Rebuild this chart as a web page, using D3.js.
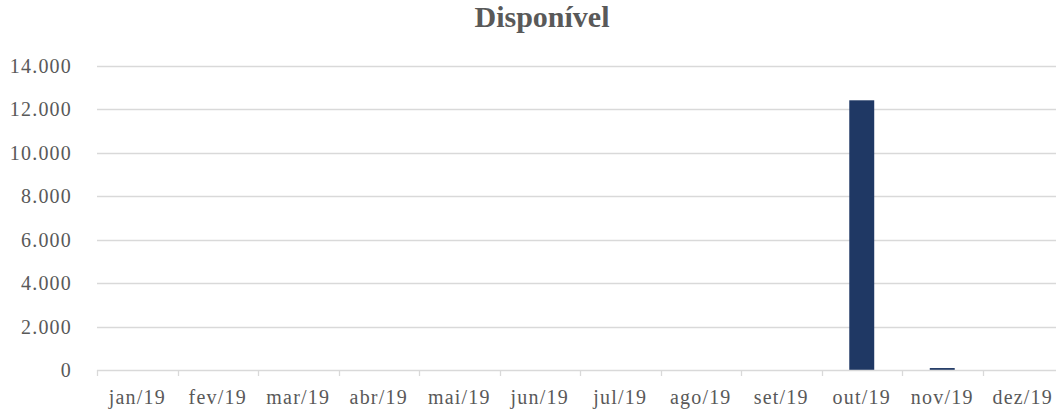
<!DOCTYPE html>
<html>
<head>
<meta charset="utf-8">
<script src="https://cdn.jsdelivr.net/npm/d3@7"></script>
<style>
  body { margin: 0; background: #fff; }
  svg text { font-family: "Liberation Serif", "DejaVu Serif", serif; fill: #595959; }
</style>
</head>
<body>
<svg id="chart" width="1056" height="414"></svg>
<script>
// chart data
var months = ["jan/19", "fev/19", "mar/19", "abr/19", "mai/19", "jun/19",
              "jul/19", "ago/19", "set/19", "out/19", "nov/19", "dez/19"];
var disponivel = [0, 0, 0, 0, 0, 0, 0, 0, 0, 12400, 90, 0];
var yTicks = [0, 2000, 4000, 6000, 8000, 10000, 12000, 14000];

var svg = d3.select("#chart");
var plotLeft = 97, plotRight = 1063, plotTop = 65.5, plotBottom = 370;

var x = d3.scaleBand().domain(months).range([plotLeft, plotRight]).paddingInner(0.69).paddingOuter(0.345);
var xTick = d3.scaleBand().domain(months).range([plotLeft, plotRight]);
var y = d3.scaleLinear().domain([0, 14000]).range([plotBottom, plotTop]);

var fmt = function (d) { return d3.format(",")(d).replace(/,/g, "."); };

// gridlines
svg.append("g").selectAll("line")
    .data(yTicks.filter(function (d) { return d > 0; }))
    .enter().append("line")
    .attr("x1", plotLeft).attr("x2", plotRight)
    .attr("y1", function (d) { return Math.round(y(d)) + 0.5; })
    .attr("y2", function (d) { return Math.round(y(d)) + 0.5; })
    .attr("stroke", "#d9d9d9").attr("stroke-width", 1.3);

// y labels
svg.append("g").selectAll("text")
    .data(yTicks)
    .enter().append("text")
    .attr("x", 72)
    .attr("y", function (d) { return y(d) + 7; })
    .attr("text-anchor", "end")
    .style("font-size", "20px")
    .style("letter-spacing", "1.2px")
    .text(fmt);

// bars
svg.append("g").selectAll("rect")
    .data(disponivel)
    .enter().append("rect")
    .attr("x", function (d, i) { return x(months[i]); })
    .attr("width", x.bandwidth())
    .attr("y", function (d) { return y(d); })
    .attr("height", function (d) { return plotBottom - y(d); })
    .attr("fill", "#1f3864");

// x axis
svg.append("line")
    .attr("x1", plotLeft).attr("x2", plotRight)
    .attr("y1", plotBottom + 0.5).attr("y2", plotBottom + 0.5)
    .attr("stroke", "#d9d9d9").attr("stroke-width", 1.3);

svg.append("g").selectAll("line")
    .data(months)
    .enter().append("line")
    .attr("x1", function (d) { return Math.round(xTick(d)) + 0.5; })
    .attr("x2", function (d) { return Math.round(xTick(d)) + 0.5; })
    .attr("y1", plotBottom).attr("y2", plotBottom + 6)
    .attr("stroke", "#d9d9d9").attr("stroke-width", 1.3);

svg.append("g").selectAll("text")
    .data(months)
    .enter().append("text")
    .attr("x", function (d) { return xTick(d) + xTick.bandwidth() / 2; })
    .attr("y", 404)
    .attr("text-anchor", "middle")
    .style("font-size", "20px")
    .style("letter-spacing", "1.2px")
    .text(function (d) { return d; });

// title
svg.append("text")
    .attr("x", 542).attr("y", 27)
    .attr("text-anchor", "middle")
    .style("font-size", "30px")
    .style("font-weight", "bold")
    .text("Disponível");
</script>
</body>
</html>
